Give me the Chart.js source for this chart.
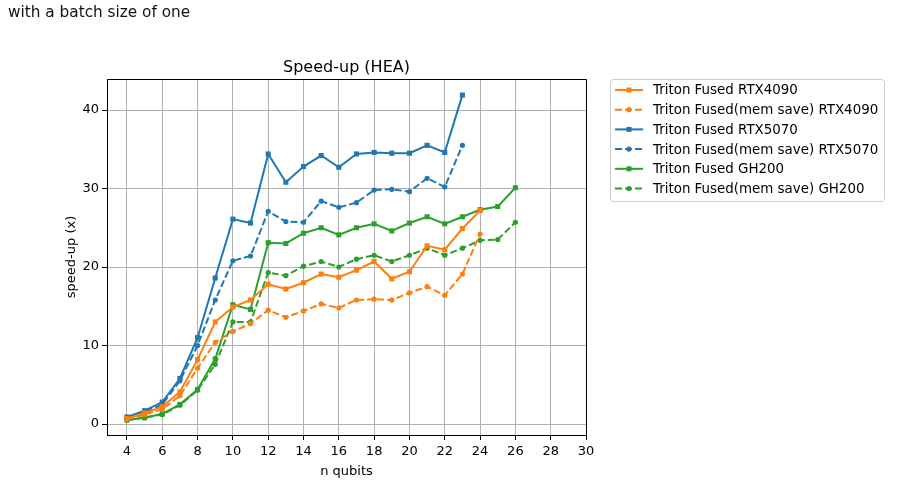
<!DOCTYPE html>
<html>
<head>
<meta charset="utf-8">
<script src="https://cdn.jsdelivr.net/npm/chart.js@4.4.1/dist/chart.umd.min.js"></script>
<style>
  body { margin: 0; background: #fff; }
  #wrap { position: relative; width: 899px; height: 483px; }
  #note { position: absolute; left: 8px; top: 3px; font: 15.3px "DejaVu Sans", sans-serif; color: #111; }
  canvas { position: absolute; left: 0; top: 0; }
</style>
</head>
<body>
<div id="wrap">
  <canvas id="speedupChart" width="899" height="483"></canvas>
  <div id="note">with a batch size of one</div>
</div>
<script>
// n qubits for each series
var qubits4090 = [4, 5, 6, 7, 8, 9, 10, 11, 12, 13, 14, 15, 16, 17, 18, 19, 20, 21, 22, 23, 24];
var qubits5070 = [4, 5, 6, 7, 8, 9, 10, 11, 12, 13, 14, 15, 16, 17, 18, 19, 20, 21, 22, 23];
var qubitsGH200 = [4, 5, 6, 7, 8, 9, 10, 11, 12, 13, 14, 15, 16, 17, 18, 19, 20, 21, 22, 23, 24, 25, 26];

// speed-up values
var fused4090 = [0.7, 1.4, 2.2, 4.1, 8.2, 13.0, 14.9, 15.8, 17.8, 17.2, 18.0, 19.1, 18.7, 19.6, 20.7, 18.5, 19.4, 22.7, 22.2, 24.9, 27.2];
var memSave4090 = [0.6, 1.2, 1.9, 3.6, 7.1, 10.4, 11.8, 12.8, 14.5, 13.6, 14.4, 15.3, 14.8, 15.8, 15.9, 15.8, 16.7, 17.5, 16.4, 19.1, 24.2];
var fused5070 = [0.9, 1.7, 2.8, 5.8, 11.0, 18.6, 26.1, 25.6, 34.4, 30.8, 32.8, 34.2, 32.7, 34.4, 34.6, 34.5, 34.5, 35.5, 34.6, 41.9];
var memSave5070 = [0.8, 1.5, 2.5, 5.5, 10.0, 15.8, 20.8, 21.4, 27.1, 25.8, 25.7, 28.4, 27.6, 28.2, 29.8, 29.9, 29.6, 31.3, 30.2, 35.5];
var fusedGH200 = [0.5, 0.8, 1.3, 2.5, 4.4, 8.3, 15.2, 14.6, 23.1, 23.0, 24.3, 25.0, 24.1, 25.0, 25.5, 24.6, 25.6, 26.4, 25.5, 26.4, 27.3, 27.7, 30.1];
var memSaveGH200 = [0.5, 0.8, 1.2, 2.4, 4.3, 7.6, 13.0, 13.0, 19.3, 18.9, 20.1, 20.7, 20.0, 21.0, 21.5, 20.7, 21.5, 22.4, 21.5, 22.4, 23.4, 23.5, 25.7];

var xTicks = [4, 6, 8, 10, 12, 14, 16, 18, 20, 22, 24, 26, 28, 30];
var yTicks = [0, 10, 20, 30, 40];

var FONT = "'DejaVu Sans', sans-serif";

function pts(xs, ys) {
  return xs.map(function (x, i) { return { x: x, y: ys[i] }; });
}

function series(label, xs, ys, color, dashed) {
  return {
    label: label,
    data: pts(xs, ys),
    borderColor: color,
    backgroundColor: color,
    borderWidth: 2,
    borderDash: dashed ? [7, 3] : [],
    pointStyle: dashed ? "circle" : "rect",
    pointRadius: dashed ? 2.6 : 3.6,
    pointBorderWidth: 0,
    tension: 0
  };
}

function align(p) { return Math.round(p - 0.5) + 0.5; }

// top/right spines, title, axis labels and legend drawn in matplotlib style
var mplDecor = {
  id: "mplDecor",
  afterDraw: function (chart) {
    var ctx = chart.ctx, a = chart.chartArea;
    ctx.save();
    ctx.strokeStyle = "#000";
    ctx.lineWidth = 1;
    ctx.beginPath();
    ctx.moveTo(align(a.left), align(a.top));
    ctx.lineTo(align(a.right), align(a.top));
    ctx.lineTo(align(a.right), align(a.bottom));
    ctx.stroke();

    ctx.fillStyle = "#000";
    ctx.textAlign = "center";
    ctx.textBaseline = "alphabetic";
    ctx.font = "16px " + FONT;
    ctx.fillText("Speed-up (HEA)", (a.left + a.right) / 2, 72);

    ctx.font = "13px " + FONT;
    ctx.fillText("n qubits", (a.left + a.right) / 2, 475);
    ctx.save();
    ctx.translate(75, (a.top + a.bottom) / 2);
    ctx.rotate(-Math.PI / 2);
    ctx.fillText("speed-up (x)", 0, 0);
    ctx.restore();

    // legend
    var lx = 610, ly = 79, lw = 274, lh = 122;
    ctx.fillStyle = "rgba(255,255,255,0.8)";
    ctx.strokeStyle = "#cccccc";
    ctx.lineWidth = 1;
    ctx.beginPath();
    ctx.roundRect(lx + 0.5, ly + 0.5, lw, lh, 3);
    ctx.fill();
    ctx.stroke();
    ctx.textAlign = "left";
    ctx.textBaseline = "middle";
    ctx.font = "13.4px " + FONT;
    chart.data.datasets.forEach(function (ds, i) {
      var y = 90 + i * 19.7;
      ctx.strokeStyle = ds.borderColor;
      ctx.lineWidth = 2;
      ctx.setLineDash(ds.borderDash);
      ctx.beginPath();
      ctx.moveTo(615, y);
      ctx.lineTo(643, y);
      ctx.stroke();
      ctx.setLineDash([]);
      ctx.fillStyle = ds.borderColor;
      if (ds.pointStyle === "rect") {
        ctx.fillRect(629 - 2.5, y - 2.5, 5, 5);
      } else {
        ctx.beginPath();
        ctx.arc(629, y, 2.6, 0, Math.PI * 2);
        ctx.fill();
      }
      ctx.fillStyle = "#000";
      ctx.fillText(ds.label, 653, y + 1);
    });
    ctx.restore();
  }
};

var config = {
  type: "line",
  data: {
    datasets: [
      series("Triton Fused RTX4090", qubits4090, fused4090, "#ff7f0e", false),
      series("Triton Fused(mem save) RTX4090", qubits4090, memSave4090, "#ff7f0e", true),
      series("Triton Fused RTX5070", qubits5070, fused5070, "#1f77b4", false),
      series("Triton Fused(mem save) RTX5070", qubits5070, memSave5070, "#1f77b4", true),
      series("Triton Fused GH200", qubitsGH200, fusedGH200, "#2ca02c", false),
      series("Triton Fused(mem save) GH200", qubitsGH200, memSaveGH200, "#2ca02c", true)
    ]
  },
  options: {
    responsive: false,
    animation: false,
    layout: { padding: { left: 0, top: 79, right: 313, bottom: 0 } },
    plugins: {
      legend: { display: false },
      title: { display: false },
      tooltip: { enabled: false }
    },
    scales: {
      x: {
        type: "linear",
        min: 2.87,
        max: 30,
        afterBuildTicks: function (scale) {
          scale.ticks = xTicks.map(function (v) { return { value: v }; });
        },
        afterFit: function (scale) { scale.height = 48; },
        grid: { color: "#b0b0b0", lineWidth: 1, tickColor: "#000", tickLength: 5 },
        border: { color: "#000", width: 1 },
        ticks: { color: "#000", font: { family: FONT, size: 13 }, padding: 4, maxRotation: 0, autoSkip: false }
      },
      y: {
        type: "linear",
        min: -1.4,
        max: 43.95,
        afterBuildTicks: function (scale) {
          scale.ticks = yTicks.map(function (v) { return { value: v }; });
        },
        afterFit: function (scale) { scale.width = 107; },
        grid: { color: "#b0b0b0", lineWidth: 1, tickColor: "#000", tickLength: 5 },
        border: { color: "#000", width: 1 },
        ticks: { color: "#000", font: { family: FONT, size: 13 }, padding: 3 }
      }
    }
  },
  plugins: [mplDecor]
};

var myChart = new Chart(document.getElementById("speedupChart"), config);
</script>
</body>
</html>
